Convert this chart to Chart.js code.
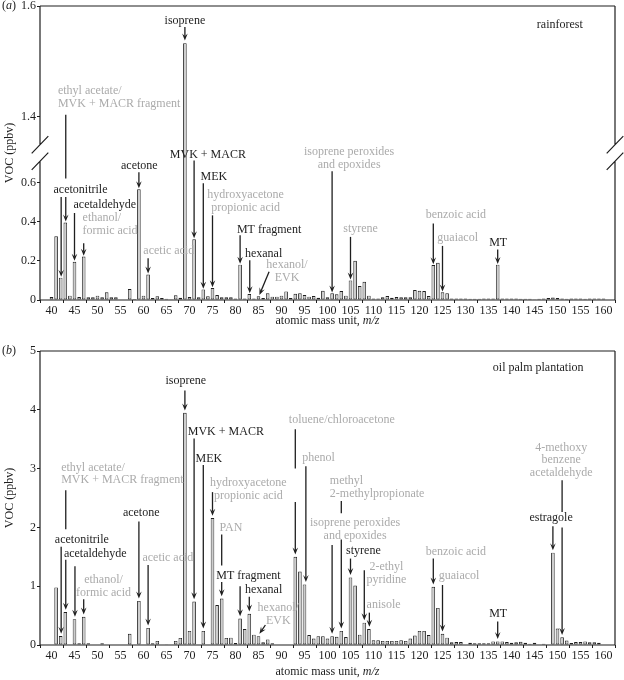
<!DOCTYPE html>
<html>
<head>
<meta charset="utf-8">
<script src="https://cdn.jsdelivr.net/npm/chart.js@4.4.1/dist/chart.umd.min.js"></script>
<style>
  body { margin: 0; background: #fff; }
  .panel { position: absolute; left: 0; width: 624px; }
</style>
</head>
<body>
<div class="panel" style="top:0;height:330px"><canvas id="chartA" width="624" height="330"></canvas></div>
<div class="panel" style="top:330px;height:350px"><canvas id="chartB" width="624" height="350"></canvas></div>
<script>
// m/z 40 ... 160
const mz = Array.from({ length: 121 }, (_, i) => 40 + i);

// (a) rainforest, ppbv
const rainforest = [
  0.015, 0.325, 0.114, 0.395, 0.022, 0.195, 0.015, 0.222, 0.014, 0.014, // 40-49
  0.022, 0.014, 0.039, 0.014, 0.014, 0, 0, 0.056, 0.005, 0.565,          // 50-59
  0.022, 0.13, 0.01, 0.019, 0.01, 0.007, 0.004, 0.024, 0.012, 1.533,    // 60-69
  0.015, 0.31, 0.014, 0.054, 0.019, 0.061, 0.025, 0.014, 0.014, 0.014,  // 70-79
  0.008, 0.18, 0.008, 0.03, 0.008, 0.019, 0.01, 0.034, 0.017, 0.017,    // 80-89
  0.022, 0.044, 0.01, 0.032, 0.034, 0.025, 0.017, 0.02, 0.012, 0.047,   // 90-99
  0.014, 0.034, 0.029, 0.046, 0.022, 0.1, 0.2, 0.071, 0.093, 0.022,     // 100-109
  0.008, 0.008, 0.014, 0.02, 0.012, 0.015, 0.014, 0.014, 0.014, 0.051, // 110-119
  0.047, 0.046, 0.02, 0.178, 0.19, 0.039, 0.034, 0.008, 0.008, 0.008,   // 120-129
  0.008, 0.007, 0.007, 0.006, 0.008, 0.008, 0.008, 0.18, 0.008, 0.008,  // 130-139
  0.008, 0.008, 0.007, 0.007, 0.006, 0.004, 0.007, 0.008, 0.01, 0.013, // 140-149
  0.01, 0.008, 0.006, 0.008, 0.008, 0.008, 0.007, 0.008, 0.008, 0.008, // 150-159
  0.008                                                                  // 160
];

// (b) oil palm plantation, ppbv
const oilPalm = [
  0, 0.98, 0.153, 0.56, 0, 0.44, 0.03, 0.48, 0.03, 0.01,                // 40-49
  0, 0.03, 0, 0, 0, 0, 0, 0.19, 0, 0.75,                                 // 50-59
  0.01, 0.29, 0.03, 0.07, 0, 0.005, 0.01, 0.07, 0.12, 3.95,              // 60-69
  0.24, 0.74, 0, 0.24, 0, 2.16, 0.68, 0.79, 0.12, 0.125,                 // 70-79
  0.035, 0.45, 0.27, 0.53, 0.175, 0.15, 0.045, 0.095, 0.03, 0,           // 80-89
  0, 0, 0, 1.5, 1.25, 1.03, 0.17, 0.11, 0.15, 0.15,                      // 90-99
  0.11, 0.15, 0.14, 0.24, 0.135, 1.15, 1.01, 0.175, 0.38, 0.27,          // 100-109
  0.08, 0.08, 0.07, 0.07, 0.07, 0.07, 0.08, 0.07, 0.11, 0.16,            // 110-119
  0.24, 0.24, 0.17, 0.99, 0.63, 0.19, 0.125, 0.045, 0.05, 0.05,          // 120-129
  0.01, 0.04, 0.03, 0.03, 0.03, 0.03, 0.06, 0.06, 0.06, 0.05,            // 130-139
  0.04, 0.045, 0.055, 0.04, 0.02, 0.04, 0, 0.02, 0, 1.57,                // 140-149
  0.28, 0.13, 0.075, 0.035, 0.05, 0.05, 0.06, 0.045, 0.045, 0.04,        // 150-159
  0                                                                      // 160
];

const topTicksLow = [0, 0.2, 0.4, 0.6];
const topTicksHigh = [1.4, 1.6];
const bottomTicks = [0, 1, 2, 3, 4, 5];

// labels: x in m/z, y in ppbv (first line)
const topLabels = [
  { text: ['isoprene'], x: 69, y: 1.573 },
  { text: ['ethyl acetate/', 'MVK + MACR fragment'], x: 41.4, y: 1.447, align: 'left', grey: true },
  { text: ['acetonitrile'], x: 46.3, y: 0.563 },
  { text: ['acetaldehyde'], x: 51.6, y: 0.483 },
  { text: ['ethanol/', 'formic acid'], x: 46.75, y: 0.42, align: 'left', grey: true },
  { text: ['acetone'], x: 59.1, y: 0.686 },
  { text: ['acetic acid'], x: 65.5, y: 0.25, grey: true },
  { text: ['MVK + MACR'], x: 74, y: 0.742 },
  { text: ['MEK'], x: 75.3, y: 0.63 },
  { text: ['hydroxyacetone', 'propionic acid'], x: 82.2, y: 0.534, grey: true },
  { text: ['MT fragment'], x: 87.3, y: 0.36 },
  { text: ['hexanal'], x: 86.1, y: 0.237 },
  { text: ['hexanol/', 'EVK'], x: 91.2, y: 0.178, grey: true },
  { text: ['isoprene peroxides', 'and epoxides'], x: 104.7, y: 0.755, grey: true },
  { text: ['styrene'], x: 107.2, y: 0.364, grey: true },
  { text: ['benzoic acid'], x: 127.9, y: 0.432, grey: true },
  { text: ['guaiacol'], x: 128.3, y: 0.317, grey: true },
  { text: ['MT'], x: 137.1, y: 0.293 },
  { text: ['rainforest'], x: 150.5, y: 1.566 }
];

const topArrows = [
  { x: 69, from: 1.562, to: 1.538, head: true },
  { x: 43.1, from: 1.404, to: 0.62 },
  { x: 43.1, from: 0.525, to: 0.4, head: true },
  { x: 42.1, from: 0.525, to: 0.118, head: true },
  { x: 45, from: 0.444, to: 0.2, head: true },
  { x: 47, from: 0.29, to: 0.226, head: true },
  { x: 59, from: 0.652, to: 0.57, head: true },
  { x: 61, from: 0.213, to: 0.135, head: true },
  { x: 71, from: 0.712, to: 0.315, head: true },
  { x: 73, from: 0.596, to: 0.058, head: true },
  { x: 75, from: 0.432, to: 0.065, head: true },
  { x: 81, from: 0.33, to: 0.185, head: true },
  { x: 83.1, from: 0.203, to: 0.035, head: true },
  { x: 87.3, from: 0.144, x2: 85.2, to: 0.026, head: true },
  { x: 101, from: 0.657, to: 0.038, head: true },
  { x: 105, from: 0.322, to: 0.105, head: true },
  { x: 123, from: 0.39, to: 0.182, head: true },
  { x: 125, from: 0.276, to: 0.043, head: true },
  { x: 137, from: 0.258, to: 0.184, head: true }
];

const bottomLabels = [
  { text: ['isoprene'], x: 69.2, y: 4.49 },
  { text: ['MVK + MACR'], x: 77.9, y: 3.62 },
  { text: ['MEK'], x: 74.2, y: 3.17 },
  { text: ['ethyl acetate/', 'MVK + MACR fragment'], x: 42.1, y: 3.02, align: 'left', grey: true },
  { text: ['acetonitrile'], x: 46.6, y: 1.795 },
  { text: ['acetaldehyde'], x: 49.5, y: 1.545 },
  { text: ['ethanol/', 'formic acid'], x: 51.3, y: 1.1, grey: true },
  { text: ['acetone'], x: 59.5, y: 2.24 },
  { text: ['acetic acid'], x: 65.3, y: 1.48, grey: true },
  { text: ['hydroxyacetone', 'propionic acid'], x: 82.8, y: 2.76, grey: true },
  { text: ['PAN'], x: 79, y: 2.0, grey: true },
  { text: ['MT fragment'], x: 82.8, y: 1.177 },
  { text: ['hexanal'], x: 86.1, y: 0.934 },
  { text: ['hexanol/', 'EVK'], x: 89.3, y: 0.634, grey: true },
  { text: ['toluene/chloroacetone'], x: 91.6, y: 3.83, align: 'left', grey: true },
  { text: ['phenol'], x: 94.5, y: 3.19, align: 'left', grey: true },
  { text: ['methyl', '2-methylpropionate'], x: 100.5, y: 2.79, align: 'left', grey: true },
  { text: ['isoprene peroxides', 'and epoxides'], x: 106, y: 2.08, grey: true },
  { text: ['styrene'], x: 107.8, y: 1.6 },
  { text: ['2-ethyl', 'pyridine'], x: 112.8, y: 1.33, grey: true },
  { text: ['anisole'], x: 112.2, y: 0.68, grey: true },
  { text: ['benzoic acid'], x: 127.9, y: 1.585, grey: true },
  { text: ['guaiacol'], x: 128.6, y: 1.18, grey: true },
  { text: ['MT'], x: 137.1, y: 0.526 },
  { text: ['4-methoxy', 'benzene', 'acetaldehyde'], x: 150.8, y: 3.36, grey: true },
  { text: ['estragole'], x: 148.6, y: 2.16 },
  { text: ['oil palm plantation'], x: 145.8, y: 4.71 }
];

const bottomArrows = [
  { x: 69, from: 4.33, to: 3.99, head: true },
  { x: 71, from: 3.51, to: 0.78, head: true },
  { x: 73, from: 3.06, to: 0.28, head: true },
  { x: 43.1, from: 2.63, to: 1.97 },
  { x: 43.1, from: 1.45, to: 0.6, head: true },
  { x: 42.1, from: 1.67, to: 0.19, head: true },
  { x: 45.1, from: 1.34, to: 0.48, head: true },
  { x: 47, from: 0.776, to: 0.52, head: true },
  { x: 59, from: 2.1, to: 0.79, head: true },
  { x: 61, from: 1.36, to: 0.33, head: true },
  { x: 75, from: 2.6, to: 2.2, head: true },
  { x: 77, from: 1.88, to: 1.35 },
  { x: 77, from: 1.07, to: 0.83, head: true },
  { x: 81, from: 1.0, to: 0.49, head: true },
  { x: 83, from: 0.82, to: 0.57, head: true },
  { x: 86.5, from: 0.34, x2: 85.2, to: 0.19, head: true },
  { x: 93, from: 3.67, to: 3.0 },
  { x: 93, from: 2.43, to: 1.54, head: true },
  { x: 95.3, from: 3.04, to: 1.07, head: true },
  { x: 103, from: 2.45, to: 2.24 },
  { x: 103, from: 1.795, to: 0.28, head: true },
  { x: 101, from: 1.7, to: 0.19, head: true },
  { x: 105, from: 1.47, to: 1.19, head: true },
  { x: 108, from: 1.27, to: 0.42, head: true },
  { x: 109.1, from: 0.55, to: 0.31, head: true },
  { x: 123, from: 1.47, to: 1.03, head: true },
  { x: 125, from: 1.02, to: 0.23, head: true },
  { x: 137, from: 0.4, to: 0.1, head: true },
  { x: 151, from: 2.8, to: 2.26 },
  { x: 151, from: 2.0, to: 0.17, head: true },
  { x: 149, from: 2.02, to: 1.61, head: true }
];

const SERIF = '"Liberation Serif", "DejaVu Serif", serif';
const INK = '#1e1e1e';
const GREY = '#ababab';
const BAR_FILL = '#cdcdcd';

Chart.defaults.font.family = SERIF;
Chart.defaults.font.size = 12;
Chart.defaults.color = INK;

// keep each dataset inside its own (stacked) y axis
const clipToAxis = {
  id: 'clipToAxis',
  beforeDatasetDraw(chart, args) {
    const ys = args.meta.yScale;
    const ctx = chart.ctx;
    ctx.save();
    ctx.beginPath();
    ctx.rect(chart.chartArea.left, ys.top, chart.chartArea.width, ys.bottom - ys.top);
    ctx.clip();
  },
  afterDatasetDraw(chart) {
    chart.ctx.restore();
  }
};

// box round the plot, with break marks on the split axis
const frame = {
  id: 'frame',
  afterDatasetsDraw(chart, args, opts) {
    const { left, right, top, bottom } = chart.chartArea;
    const ctx = chart.ctx;
    ctx.save();
    ctx.strokeStyle = INK;
    ctx.lineWidth = 1.2;
    ctx.beginPath();
    ctx.moveTo(left, top); ctx.lineTo(right, top);
    ctx.moveTo(left, bottom); ctx.lineTo(right, bottom);
    if (opts.split) {
      const by = chart.scales.y.top;
      const g = 8.3;
      [left, right].forEach(x => {
        ctx.moveTo(x, top); ctx.lineTo(x, by - g);
        ctx.moveTo(x, by + g); ctx.lineTo(x, bottom);
        [by - g, by + g].forEach(cy => {
          ctx.moveTo(x - 8.3, cy + 8.6);
          ctx.lineTo(x + 8.3, cy - 8.6);
        });
      });
    } else {
      ctx.moveTo(left, top); ctx.lineTo(left, bottom);
      ctx.moveTo(right, top); ctx.lineTo(right, bottom);
    }
    ctx.stroke();
    ctx.restore();
  }
};

// compound names and arrows
const notes = {
  id: 'notes',
  afterDatasetsDraw(chart, args, opts) {
    const ctx = chart.ctx;
    const xs = chart.scales.x;
    const yOf = v => (opts.high && v >= 1 ? chart.scales.y2 : chart.scales.y).getPixelForValue(v);
    ctx.save();
    ctx.strokeStyle = INK;
    ctx.fillStyle = INK;
    ctx.lineWidth = 1.3;
    opts.arrows.forEach(a => {
      const x1 = xs.getPixelForValue(a.x), y1 = yOf(a.from);
      const x2 = xs.getPixelForValue(a.x2 ?? a.x), y2 = yOf(a.to);
      const len = Math.hypot(x2 - x1, y2 - y1);
      const ux = (x2 - x1) / len, uy = (y2 - y1) / len;
      const L = 7, W = 2.8;
      ctx.beginPath();
      ctx.moveTo(x1, y1);
      ctx.lineTo(a.head ? x2 - ux * L * 0.6 : x2, a.head ? y2 - uy * L * 0.6 : y2);
      ctx.stroke();
      if (a.head) {
        ctx.beginPath();
        ctx.moveTo(x2, y2);
        ctx.lineTo(x2 - ux * L - uy * W, y2 - uy * L + ux * W);
        ctx.lineTo(x2 - ux * L * 0.6, y2 - uy * L * 0.6);
        ctx.lineTo(x2 - ux * L + uy * W, y2 - uy * L - ux * W);
        ctx.closePath();
        ctx.fill();
      }
    });
    ctx.font = '12px ' + SERIF;
    ctx.textBaseline = 'middle';
    opts.labels.forEach(l => {
      ctx.fillStyle = l.grey ? GREY : INK;
      ctx.textAlign = l.align || 'center';
      const x = xs.getPixelForValue(l.x);
      const y = yOf(l.y);
      l.text.forEach((t, i) => ctx.fillText(t, x, y + i * 12.7));
    });
    ctx.restore();
  }
};

// panel letter, axis titles
const titles = {
  id: 'titles',
  afterDraw(chart, args, opts) {
    const ctx = chart.ctx;
    const { left, right, top, bottom } = chart.chartArea;
    ctx.save();
    ctx.fillStyle = INK;
    ctx.textBaseline = 'middle';
    ctx.textAlign = 'left';
    // (a) / (b)
    let x = 2;
    ctx.font = '12px ' + SERIF;
    ctx.fillText('(', x, top); x += ctx.measureText('(').width;
    ctx.font = 'italic 12px ' + SERIF;
    ctx.fillText(opts.letter, x, top); x += ctx.measureText(opts.letter).width;
    ctx.font = '12px ' + SERIF;
    ctx.fillText(')', x, top);
    // x title
    const plain = 'atomic mass unit, ';
    const ital = 'm/z';
    const w1 = ctx.measureText(plain).width;
    ctx.font = 'italic 12px ' + SERIF;
    const w2 = ctx.measureText(ital).width;
    const x0 = (left + right) / 2 - (w1 + w2) / 2;
    const ty = bottom + opts.xTitleGap;
    ctx.font = '12px ' + SERIF;
    ctx.fillText(plain, x0, ty);
    ctx.font = 'italic 12px ' + SERIF;
    ctx.fillText(ital, x0 + w1, ty);
    // y title
    ctx.font = '12px ' + SERIF;
    ctx.translate(10, (top + bottom) / 2);
    ctx.rotate(-Math.PI / 2);
    ctx.textAlign = 'center';
    ctx.fillText('VOC (ppbv)', 0, 0);
    ctx.restore();
  }
};

function fmt(v) {
  return v === 0 ? '0' : (Number.isInteger(v) ? String(v) : v.toFixed(1));
}

function yAxis(min, max, tickList, extra) {
  return Object.assign({
    type: 'linear',
    position: 'left',
    min: min,
    max: max,
    afterBuildTicks: s => { s.ticks = tickList.map(v => ({ value: v })); },
    ticks: { padding: 1, color: INK, callback: v => fmt(v) },
    grid: { display: true, drawOnChartArea: false, tickLength: 3, color: INK },
    border: { display: false },
    afterFit: s => { s.width = 40; s.paddingTop = 0; s.paddingBottom = 0; }
  }, extra || {});
}

function xAxis(h) {
  return {
    type: 'linear',
    min: 40,
    max: 160,
    ticks: { stepSize: 5, autoSkip: false, maxRotation: 0, padding: 1, color: INK },
    grid: { display: true, drawOnChartArea: false, tickLength: 3, color: INK },
    border: { display: false },
    afterFit: s => { s.height = h; s.paddingLeft = 0; s.paddingRight = 0; }
  };
}

const barStyle = {
  backgroundColor: BAR_FILL,
  borderColor: INK,
  borderWidth: 0.9,
  barPercentage: 0.78,
  categoryPercentage: 1,
  grouped: false
};

// (a) rainforest, broken y axis
new Chart(document.getElementById('chartA'), {
  type: 'bar',
  data: {
    labels: mz,
    datasets: [
      Object.assign({ data: rainforest, yAxisID: 'y', borderSkipped: false }, barStyle),
      Object.assign({ data: rainforest.map(v => (v > 1.335 ? v : null)), yAxisID: 'y2', borderSkipped: 'start' }, barStyle)
    ]
  },
  options: {
    responsive: false,
    animation: false,
    layout: { padding: { top: 6, right: 9, left: 0, bottom: 0 } },
    plugins: {
      legend: { display: false },
      tooltip: { enabled: false },
      frame: { split: true },
      notes: { labels: topLabels, arrows: topArrows, high: true },
      titles: { letter: 'a', xTitleGap: 21 }
    },
    scales: {
      x: xAxis(30),
      y: yAxis(0, 0.75, topTicksLow, { stack: 'voc', stackWeight: 1 }),
      y2: yAxis(1.335, 1.6, topTicksHigh, { stack: 'voc', stackWeight: 1 })
    }
  },
  plugins: [clipToAxis, frame, notes, titles]
});

// (b) oil palm plantation
new Chart(document.getElementById('chartB'), {
  type: 'bar',
  data: {
    labels: mz,
    datasets: [
      Object.assign({ data: oilPalm, borderSkipped: false }, barStyle)
    ]
  },
  options: {
    responsive: false,
    animation: false,
    layout: { padding: { top: 21, right: 9, left: 0, bottom: 0 } },
    plugins: {
      legend: { display: false },
      tooltip: { enabled: false },
      frame: { split: false },
      notes: { labels: bottomLabels, arrows: bottomArrows, high: false },
      titles: { letter: 'b', xTitleGap: 27 }
    },
    scales: {
      x: xAxis(35),
      y: yAxis(0, 5, bottomTicks)
    }
  },
  plugins: [clipToAxis, frame, notes, titles]
});
</script>
</body>
</html>
